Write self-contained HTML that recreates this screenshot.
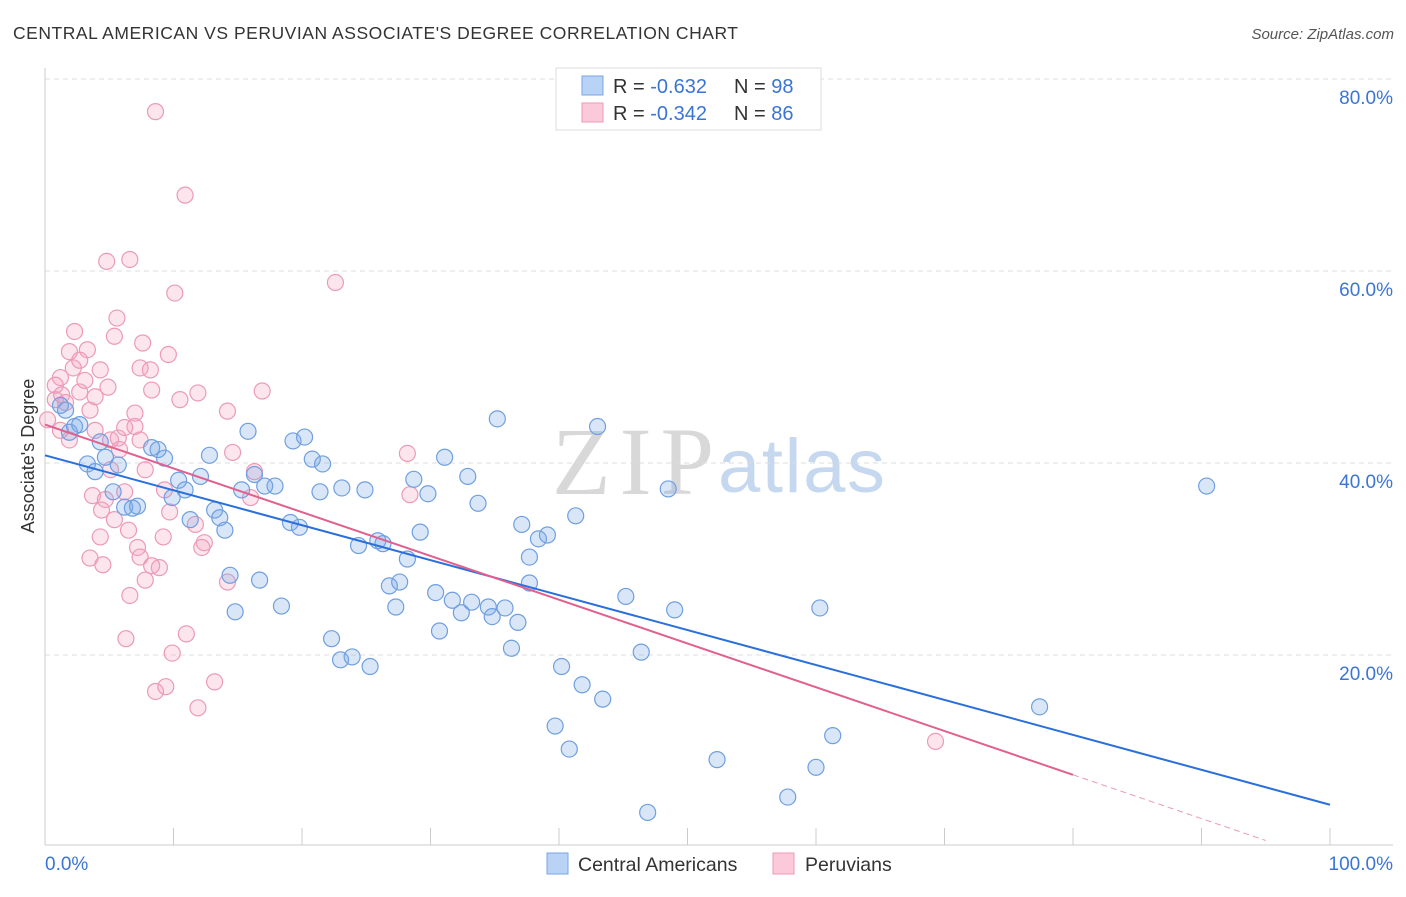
<!DOCTYPE html>
<html><head><meta charset="utf-8"><style>
body{margin:0;background:#fff;width:1406px;height:892px;overflow:hidden;font-family:"Liberation Sans",sans-serif;}
</style></head><body>
<svg id="chart" width="1406" height="892" xmlns="http://www.w3.org/2000/svg">
<text x="13" y="39" font-size="17.5" fill="#333" textLength="725">CENTRAL AMERICAN VS PERUVIAN ASSOCIATE'S DEGREE CORRELATION CHART</text>
<text x="1394" y="39" font-size="15" fill="#555" font-style="italic" text-anchor="end">Source: ZipAtlas.com</text>
<g>
<text x="552" y="494" font-size="96" font-family="Liberation Serif,serif" fill="#d8d8d8" textLength="162">ZIP</text>
<text x="718" y="492" font-size="76" fill="#c6d8f0" textLength="167">atlas</text>
</g>
<g id="grid"></g>
<g id="axes"></g>
<g id="pts"></g>
<g id="lines"></g>
<text transform="translate(34,456) rotate(-90)" font-size="18" fill="#333" text-anchor="middle">Associate's Degree</text>
<g>
<rect x="556" y="68" width="265" height="62" fill="#fff" stroke="#ddd"/>
<rect x="582" y="76" width="21" height="19" fill="#b8d3f5" stroke="#7aa6e6"/>
<rect x="582" y="103" width="21" height="19" fill="#fbc9d9" stroke="#ee9ab8"/>
<text x="613" y="93" font-size="20" fill="#333">R = <tspan fill="#3a75d6">-0.632</tspan></text>
<text x="734" y="93" font-size="20" fill="#333">N = <tspan fill="#3a75d6">98</tspan></text>
<text x="613" y="120" font-size="20" fill="#333">R = <tspan fill="#3a75d6">-0.342</tspan></text>
<text x="734" y="120" font-size="20" fill="#333">N = <tspan fill="#3a75d6">86</tspan></text>
</g>
<g>
<rect x="547" y="853" width="21" height="21" fill="#b8d3f5" stroke="#7aa6e6"/>
<text x="578" y="871" font-size="19.5" fill="#333">Central Americans</text>
<rect x="773" y="853" width="21" height="21" fill="#fbc9d9" stroke="#ee9ab8"/>
<text x="805" y="871" font-size="19.5" fill="#333">Peruvians</text>
</g>
</svg>
<script>
const yTicks=[20,40,60,80];
const yTickLabels=["20.0%","40.0%","60.0%","80.0%"];
const xTickLabels=["0.0%","100.0%"];
const blueX=[1.9,2.3,2.7,3.3,3.9,4.3,4.7,5.3,5.7,6.2,6.8,7.2,8.3,8.8,9.3,9.9,10.4,10.9,11.3,12.1,12.8,13.2,13.6,14.0,14.4,14.8,15.3,15.8,16.3,16.7,17.1,17.9,18.4,19.1,19.3,19.8,20.2,20.8,21.4,21.6,22.3,23.0,23.1,23.9,24.4,24.9,25.3,25.9,26.3,26.8,27.3,27.6,28.2,28.7,29.2,29.8,30.4,30.7,31.1,31.7,32.4,32.9,33.2,33.7,34.5,34.8,35.2,35.8,36.3,36.8,37.1,37.7,38.4,39.1,39.7,40.2,40.8,41.3,41.8,43.0,43.4,45.2,46.4,48.5,49.0,52.3,57.8,60.0,60.3,61.3,77.4,90.4,46.9,37.7,1.2,1.6];
const blueY=[43.2,43.8,44.0,39.9,39.1,42.2,40.6,37.0,39.8,35.4,35.3,35.5,41.6,41.4,40.5,36.4,38.2,37.2,34.1,38.6,40.8,35.1,34.3,33.0,28.3,24.5,37.2,43.3,38.8,27.8,37.6,37.6,25.1,33.8,42.3,33.3,42.7,40.4,37.0,39.9,21.7,19.5,37.4,19.8,31.4,37.2,18.8,31.9,31.6,27.2,25.0,27.6,30.0,38.3,32.8,36.8,26.5,22.5,40.6,25.7,24.4,38.6,25.5,35.8,25.0,24.0,44.6,24.9,20.7,23.4,33.6,30.2,32.1,32.5,12.6,18.8,10.2,34.5,16.9,43.8,15.4,26.1,20.3,37.3,24.7,9.1,5.2,8.3,24.9,11.6,14.6,37.6,3.6,27.5,46.0,45.5];
const pinkX=[8.6,10.9,4.8,6.6,22.6,10.1,5.6,2.3,5.4,7.6,9.6,1.9,3.3,2.2,4.3,7.4,8.2,1.2,0.8,4.9,8.3,10.5,11.9,16.9,7.0,14.2,2.7,3.9,3.5,1.6,5.1,5.7,7.0,6.2,14.6,7.8,28.2,16.3,28.4,16.0,3.7,6.2,4.7,4.4,9.7,4.3,6.5,7.2,9.2,11.7,12.4,12.2,3.5,4.5,7.4,8.9,8.3,7.8,14.2,6.6,11.0,6.3,9.9,8.6,9.4,13.2,11.9,69.3,0.8,1.3,0.2,1.9,3.1,5.8,1.2,7.4,2.7,3.9,5.1,9.3,5.4];
const pinkY=[76.6,67.9,61.0,61.2,58.8,57.7,55.1,53.7,53.2,52.5,51.3,51.6,51.8,49.9,49.7,49.9,49.7,48.9,48.1,47.9,47.6,46.6,47.3,47.5,45.2,45.4,47.4,46.9,45.5,46.3,42.4,42.6,43.8,43.7,41.1,39.3,41.0,39.1,36.7,36.4,36.6,37.0,36.2,35.1,34.9,32.3,33.0,31.2,32.3,33.6,31.7,31.2,30.1,29.4,30.2,29.1,29.3,27.8,27.6,26.2,22.2,21.7,20.2,16.2,16.7,17.2,14.5,11.0,46.6,47.1,44.5,42.4,48.6,41.4,43.4,42.4,50.7,43.4,39.3,37.2,34.1];
const blueLine=[40.8,4.4];
const pinkLine=[44.0,-1.6];
const pinkSolidEnd=80;

const NS="http://www.w3.org/2000/svg";
const X0=45,X1=1330,Y0=847,YS=9.6;
function sx(v){return X0+(X1-X0)*v/100;}
function sy(v){return Y0-v*YS;}
function mk(tag,attrs,parent){const e=document.createElementNS(NS,tag);for(const k in attrs)e.setAttribute(k,attrs[k]);parent.appendChild(e);return e;}
const grid=document.getElementById('grid'),axes=document.getElementById('axes'),pts=document.getElementById('pts'),lines=document.getElementById('lines');
yTicks.forEach((t,i)=>{
 const l=mk('line',{x1:45,x2:1393,y1:sy(t),y2:sy(t),stroke:'#ddd','stroke-dasharray':'5,4'},grid);
 
 
 const tx=mk('text',{x:1393,y:sy(t)+25,'font-size':19,fill:'#3a75d6','text-anchor':'end'},axes);
 tx.textContent=yTickLabels[i];
 
 
});
let a=mk('line',{x1:45,x2:45,y1:68,y2:845,stroke:'#ccc'},axes);


a=mk('line',{x1:45,x2:1393,y1:845,y2:845,stroke:'#ccc'},axes);


for(let i=0;i<=10;i++){
 const t=mk('line',{x1:sx(i*10),x2:sx(i*10),y1:828,y2:845,stroke:'#ccc'},axes);
 
 
}
let xl=mk('text',{x:45,y:870,'font-size':19,fill:'#3a75d6'},axes);
xl.textContent=xTickLabels[0];


xl=mk('text',{x:1393,y:870,'font-size':19,fill:'#3a75d6','text-anchor':'end'},axes);
xl.textContent=xTickLabels[1];


pinkX.forEach((x,i)=>{
 const c=mk('circle',{cx:sx(x),cy:sy(pinkY[i]),r:8,fill:'rgba(245,160,190,0.28)',stroke:'#ec9ab8','stroke-width':1.2},pts);
 
 
});
blueX.forEach((x,i)=>{
 const c=mk('circle',{cx:sx(x),cy:sy(blueY[i]),r:8,fill:'rgba(120,165,230,0.28)',stroke:'#6f9fe0','stroke-width':1.2},pts);
 
 
});
let ln=mk('line',{x1:sx(0),y1:sy(blueLine[0]),x2:sx(100),y2:sy(blueLine[1]),stroke:'#2a6fdb','stroke-width':2},lines);


const pAt=v=>pinkLine[0]+(pinkLine[1]-pinkLine[0])*v/100;
ln=mk('line',{x1:sx(0),y1:sy(pinkLine[0]),x2:sx(pinkSolidEnd),y2:sy(pAt(pinkSolidEnd)),stroke:'#e0608e','stroke-width':2},lines);


ln=mk('line',{x1:sx(pinkSolidEnd),y1:sy(pAt(pinkSolidEnd)),x2:sx(95),y2:sy(pAt(95)),stroke:'#e89ab6','stroke-width':1,'stroke-dasharray':'6,4'},lines);


</script>
</body></html>
